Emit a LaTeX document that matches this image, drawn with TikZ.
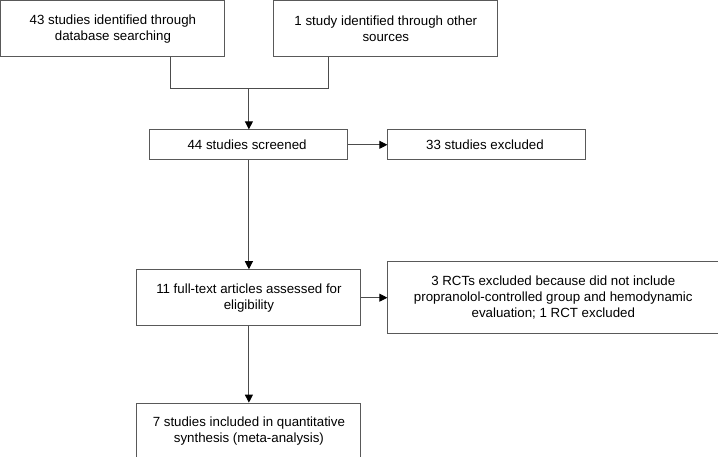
\documentclass[tikz,border=0pt]{standalone}
\usepackage{fontspec}
\setmainfont{Liberation Sans}
\usetikzlibrary{arrows.meta,positioning}

\begin{document}
\begin{tikzpicture}[
    x=1pt, y=1pt,
    node distance=1cm,
    box/.style={rectangle, draw=black!65, line width=0.9pt, minimum width=224pt, minimum height=56pt, inner sep=0pt, align=center, font=\fontsize{13.3}{16}\selectfont},
    smallbox/.style={box, minimum width=198pt, minimum height=30pt},
    widebox/.style={box, minimum width=331pt, minimum height=72pt},
    line/.style={draw=black!70, line width=0.9pt},
    arrow/.style={line, -{Triangle[length=8pt,width=8pt,fill=black,color=black]}}
]
\useasboundingbox (0,0) rectangle (718,-457);

% Identification
\node[box, anchor=north west] (database) at (0.45,-0.45) {
    43 studies identified through\\database searching
};
\node[box, right=48pt of database] (other) {
    1 study identified through other\\sources
};

% Screening
\node[smallbox, below right=72pt and 136pt of database.south, anchor=north] (screened) {
    44 studies screened
};
\node[smallbox, right=39pt of screened] (excluded) {
    33 studies excluded
};

% Eligibility
\node[box, below=109pt of screened] (fulltext) {
    11 full-text articles assessed for\\eligibility
};
\node[widebox, right=26pt of fulltext] (rcts) {
    3 RCTs excluded because did not include\\
    propranolol-controlled group and hemodynamic\\
    evaluation; 1 RCT excluded
};

% Included
\node[box, below=76.5pt of fulltext] (included) {
    7 studies included in quantitative\\synthesis (meta-analysis)
};

% Arrows
\coordinate (join) at ([yshift=-31pt]database.south -| screened.north);
\draw[line] ([xshift=58pt]database.south) |- (join) -| ([xshift=-57pt]other.south);
\draw[arrow] (join) -- (screened.north);
\draw[arrow] (screened.east) -- (excluded.west);
\draw[arrow] (screened.south) -- (fulltext.north);
\draw[arrow] (fulltext.east) -- (rcts.west);
\draw[arrow] (fulltext.south) -- (included.north);

\end{tikzpicture}
\end{document}
